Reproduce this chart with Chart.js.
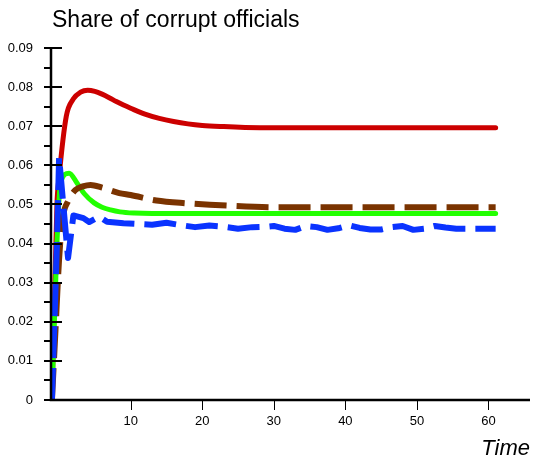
<!DOCTYPE html>
<html>
<head>
<meta charset="utf-8">
<script src="https://cdn.jsdelivr.net/npm/chart.js@4/dist/chart.umd.min.js"></script>
<style>
  html, body { margin: 0; padding: 0; background: #fff; }
  canvas { display: block; }
</style>
</head>
<body>
<canvas id="chart" width="536" height="464"></canvas>
<script>
// Share of corrupt officials over time, four model runs
const redTime  = [-1, -0.3, 0, 1, 2, 3, 4, 5, 6, 7, 8, 9, 10, 12, 14, 16, 18, 20, 23, 26, 30, 61];
const redShare = [0, 0.050, 0.057, 0.0725, 0.0770, 0.0787, 0.0792, 0.0789, 0.0782, 0.0773, 0.0763, 0.0754, 0.0746, 0.0731, 0.0720, 0.0712, 0.0706, 0.0702, 0.0699, 0.0697, 0.0696, 0.0696];

const greenTime  = [-1, -0.3, 0.2, 1.4, 2.5, 3.5, 4.9, 6, 7.2, 8.5, 10.5, 13, 61];
const greenShare = [0, 0.040, 0.0555, 0.0580, 0.0555, 0.0528, 0.0504, 0.0493, 0.0486, 0.0481, 0.0478, 0.0477, 0.0477];

const brownTime  = [-1, -0.5, 0, 0.45, 1.3, 2.3, 3.3, 4.4, 6, 8.4, 10, 13.6, 17.8, 23.4, 30, 61];
const brownShare = [0, 0.018, 0.036, 0.046, 0.051, 0.0537, 0.0546, 0.0550, 0.0543, 0.0529, 0.0524, 0.0510, 0.0503, 0.0497, 0.0493, 0.0493];

const blueTime  = [-1, -0.3, 0, 1.25, 2, 3.4, 4.2, 5.6, 6.7, 9, 11, 13, 15, 17, 19, 21, 23, 25, 27, 29, 30,
                   31.5, 33, 34.5, 36, 37.5, 39, 40.5, 42, 43.5, 45, 46.5, 48, 49.5, 51, 52.5, 54, 55.5, 57, 61];
const blueShare = [0, 0.040, 0.062, 0.0363, 0.0472, 0.0465, 0.0455, 0.0469, 0.0456, 0.0452, 0.0450, 0.0448, 0.0453, 0.0447, 0.0442, 0.0446, 0.0443, 0.0438, 0.0442, 0.0443, 0.0445,
                   0.0438, 0.0435, 0.0445, 0.0442, 0.0435, 0.0439, 0.0447, 0.0440, 0.0436, 0.0436, 0.0442, 0.0445, 0.0435, 0.0438, 0.0445, 0.0441, 0.0438, 0.0438, 0.0438];

const xTicks = [10, 20, 30, 40, 50, 60];
const yTicks = [0, 0.01, 0.02, 0.03, 0.04, 0.05, 0.06, 0.07, 0.08, 0.09];
const yMinor = [0.005, 0.015, 0.025, 0.035, 0.045, 0.055, 0.065, 0.075, 0.085];

const FONT = '"Liberation Sans", Arial, sans-serif';

function toPoints(xs, ys) {
    return xs.map((x, i) => ({ x: x, y: ys[i] }));
}

// Axis lines, tick marks and the two free labels
const axesPlugin = {
    id: 'axes',
    afterDatasetsDraw(chart) {
        const { ctx, chartArea: a, scales: { x, y } } = chart;
        ctx.save();
        ctx.strokeStyle = '#000';
        ctx.lineWidth = 2.5;
        ctx.beginPath();
        ctx.moveTo(a.left, a.top);
        ctx.lineTo(a.left, a.bottom);
        ctx.lineTo(a.right, a.bottom);
        ctx.stroke();

        ctx.lineWidth = 2;
        yTicks.forEach(v => {
            const py = Math.round(y.getPixelForValue(v));
            ctx.beginPath();
            ctx.moveTo(a.left - 7, py);
            ctx.lineTo(a.left + 11, py);
            ctx.stroke();
        });
        yMinor.forEach(v => {
            const py = Math.round(y.getPixelForValue(v));
            ctx.beginPath();
            ctx.moveTo(a.left - 7, py);
            ctx.lineTo(a.left, py);
            ctx.stroke();
        });

        ctx.lineWidth = 1;
        xTicks.forEach(v => {
            const px = Math.round(x.getPixelForValue(v)) + 0.5;
            ctx.beginPath();
            ctx.moveTo(px, a.bottom);
            ctx.lineTo(px, a.bottom + 10);
            ctx.stroke();
        });

        ctx.fillStyle = '#000';
        ctx.textBaseline = 'alphabetic';
        ctx.textAlign = 'left';
        ctx.font = '23px ' + FONT;
        ctx.fillText('Share of corrupt officials', 52, 27);
        ctx.textAlign = 'right';
        ctx.font = 'italic 22px ' + FONT;
        ctx.fillText('Time', 530, 455);
        ctx.restore();
    }
};

const lineStyle = {
    fill: false,
    pointRadius: 0,
    borderJoinStyle: 'round'
};

new Chart(document.getElementById('chart'), {
    type: 'line',
    data: {
        datasets: [
            {
                ...lineStyle,
                label: 'Run 4',
                data: toPoints(blueTime, blueShare),
                borderColor: '#0a33ff',
                borderWidth: 6,
                borderDash: [32, 10],
                tension: 0,
                order: 0
            },
            {
                ...lineStyle,
                label: 'Run 3',
                data: toPoints(brownTime, brownShare),
                borderColor: '#7a3300',
                borderWidth: 6,
                borderDash: [32, 10],
                cubicInterpolationMode: 'monotone',
                order: 1
            },
            {
                ...lineStyle,
                label: 'Run 2',
                data: toPoints(greenTime, greenShare),
                borderColor: '#22ff00',
                borderWidth: 5,
                borderCapStyle: 'round',
                cubicInterpolationMode: 'monotone',
                order: 2
            },
            {
                ...lineStyle,
                label: 'Run 1',
                data: toPoints(redTime, redShare),
                borderColor: '#cc0000',
                borderWidth: 5,
                borderCapStyle: 'round',
                cubicInterpolationMode: 'monotone',
                order: 3
            }
        ]
    },
    options: {
        responsive: false,
        animation: false,
        events: [],
        layout: { padding: { left: 0, top: 48, right: 6, bottom: 0 } },
        plugins: {
            legend: { display: false },
            tooltip: { enabled: false },
            title: { display: false }
        },
        scales: {
            x: {
                type: 'linear',
                min: -1.13,
                max: 65.8,
                grid: { display: false, drawTicks: false },
                border: { display: false },
                afterBuildTicks: s => { s.ticks = xTicks.map(v => ({ value: v })); },
                afterFit: s => { s.height = 64; },
                ticks: {
                    autoSkip: false,
                    maxRotation: 0,
                    padding: 14,
                    color: '#000',
                    font: { family: FONT, size: 13 },
                    callback: v => String(v)
                }
            },
            y: {
                type: 'linear',
                min: 0,
                max: 0.09,
                grid: { display: false, drawTicks: false },
                border: { display: false },
                afterBuildTicks: s => { s.ticks = yTicks.map(v => ({ value: v })); },
                afterFit: s => { s.width = 51; },
                ticks: {
                    autoSkip: false,
                    padding: 18,
                    color: '#000',
                    font: { family: FONT, size: 13 },
                    callback: v => v === 0 ? '0' : v.toFixed(2)
                }
            }
        }
    },
    plugins: [axesPlugin]
});
</script>
</body>
</html>
